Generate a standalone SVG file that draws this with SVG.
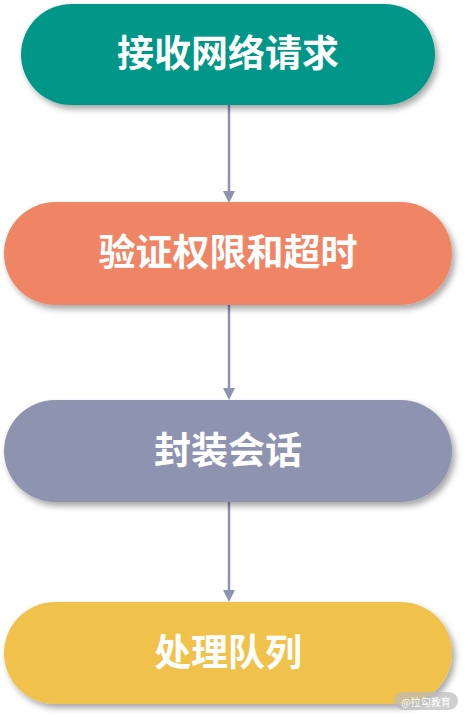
<svg xmlns="http://www.w3.org/2000/svg" width="465" height="717" viewBox="0 0 465 717">
<defs>
<filter id="sh" x="-10%" y="-20%" width="125%" height="150%">
<feDropShadow dx="3" dy="4" stdDeviation="3" flood-color="#000" flood-opacity="0.35"/>
</filter>
<style>
.lbl{font-family:"Noto Sans CJK SC","Noto Sans",sans-serif;font-size:37px;font-weight:bold;fill:#fff;text-anchor:middle;dominant-baseline:central}
.conn{stroke:#8E93B0;stroke-width:2.5;fill:none}
.ahd{fill:#8E93B0}
</style>
</defs>
<rect width="465" height="717" fill="#fff"/>
<g id="connectors">
<line class="conn" x1="229" y1="105" x2="229" y2="192"/>
<path class="ahd" d="M223,191 L235,191 L229,203 Z"/>
<line class="conn" x1="229" y1="305" x2="229" y2="389"/>
<path class="ahd" d="M223,388 L235,388 L229,400 Z"/>
<line class="conn" x1="229" y1="502" x2="229" y2="591"/>
<path class="ahd" d="M223,590 L235,590 L229,602 Z"/>
</g>
<g id="n1">
<rect x="21" y="4" width="414" height="101" rx="50.5" fill="#009688" filter="url(#sh)"/>
<text class="lbl" x="228" y="51">接收网络请求</text>
</g>
<g id="n2">
<rect x="4" y="202" width="448" height="103" rx="51.5" fill="#F08566" filter="url(#sh)"/>
<text class="lbl" x="228" y="250">验证权限和超时</text>
</g>
<g id="n3">
<rect x="4" y="400" width="448" height="102" rx="51" fill="#8E93B0" filter="url(#sh)"/>
<text class="lbl" x="228" y="448">封装会话</text>
</g>
<g id="n4">
<rect x="4" y="602" width="448" height="102" rx="51" fill="#F0C24C" filter="url(#sh)"/>
<text class="lbl" x="228" y="650">处理队列</text>
</g>
<g id="watermark">
<rect x="394" y="692" width="64" height="18" rx="9" fill="#bbb" fill-opacity="0.7"/>
<text x="426" y="701" font-family="'Noto Sans CJK SC',sans-serif" font-size="10" fill="#fff" text-anchor="middle" dominant-baseline="central">@拉勾教育</text>
</g>
</svg>
